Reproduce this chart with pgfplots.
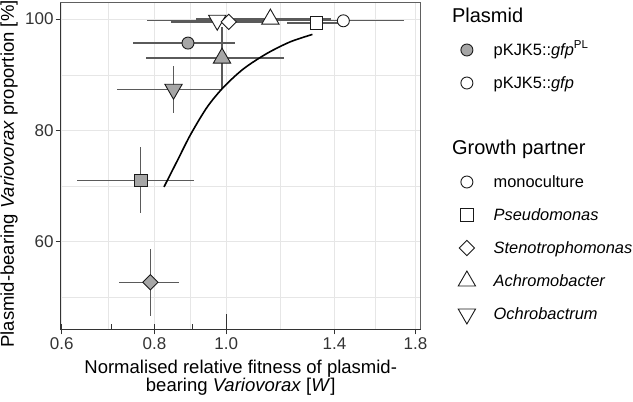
\documentclass[border=0pt]{standalone}
\usepackage{pgfplots}
\pgfplotsset{compat=1.18}
\usepackage{pgfplotstable}
\usepackage{fontspec}
\setmainfont{Liberation Sans}
\definecolor{ptgray}{HTML}{A6A6A6}
\definecolor{errgray}{HTML}{5A5A5A}
\definecolor{gridgray}{HTML}{E6E6E6}
\definecolor{axgray}{HTML}{333333}
\definecolor{boxgray}{HTML}{606060}
\definecolor{mkedge}{HTML}{1A1A1A}

% pKJK5::gfp^PL (grey filled)
\pgfplotstableread{
x y ex ey
0.888 95.7 0.140 0.6
}\plMono
\pgfplotstableread{
x y ex ey
0.767 71.05 0.137 5.95
}\plPseu
\pgfplotstableread{
x y ex ey
0.790 52.75 0.074 6.05
}\plSten
\pgfplotstableread{
x y ex ey
0.987 93.0 0.208 5.6
}\plAchr
\pgfplotstableread{
x y ex ey
0.849 87.4 0.137 4.2
}\plOchr
% pKJK5::gfp (open)
\pgfplotstableread{
x y ex ey
1.439 99.7 0.298 0.3
}\gfMono
\pgfplotstableread{
x y ex ey
1.323 99.3 0.115 0.4
}\gfPseu
\pgfplotstableread{
x y ex ey
1.008 99.5 0.165 0.4
}\gfSten
\pgfplotstableread{
x y ex ey
1.147 100.0 0.238 0.3
}\gfAchr
\pgfplotstableread{
x y ex ey
0.9725 99.8 0.190 0.3
}\gfOchr

\pgfplotsset{
 eb/.style={forget plot, only marks, mark=none,
   error bars/.cd, x dir=both, x explicit, y dir=both, y explicit,
   error mark=none, error bar style={draw=errgray, line width=1.3pt}},
 mk/.style={forget plot, only marks, mark options={draw=mkedge, line width=0.9pt, fill=#1}},
 mcirc/.style={mark=*, mark size=6pt},
 msq/.style={mark=square*, mark size=6.2pt},
 mdia/.style={mark=square*, mark size=5.4pt, every mark/.append style={rotate=45}},
 mtri/.style={mark=triangle*, mark size=10pt},
 mtrid/.style={mark=triangle*, mark size=10pt, every mark/.append style={rotate=180}},
}

\begin{document}
\begin{tikzpicture}
\begin{axis}[
 name=ax,
 scale only axis, width=360pt, height=326.6pt,
 xmode=log, xmin=0.598, xmax=1.83, ymin=44.3, ymax=102.95,
 xtick={0.6,0.8,1.0,1.4,1.8}, xticklabels={0.6,0.8,1.0,1.4,1.8},
 minor xtick={0.6928,0.8944,1.1832,1.5875},
 ytick={60,80,100}, minor ytick={50,70,90},
 grid=both,
 major grid style={draw=gridgray, line width=1.1pt},
 minor grid style={draw=gridgray, line width=0.6pt},
 tick pos=left, tick align=outside,
 major tick length=5pt, minor tick length=0pt,
 tick style={draw=axgray, line width=1.1pt},
 axis line style={draw=boxgray, line width=0.9pt},
 /pgf/number format/assume math mode=true,
 ticklabel style={font=\fontsize{17}{20}\selectfont, text=axgray},
 yticklabel style={inner xsep=2pt},
 xlabel={Normalised relative fitness of plasmid-\\bearing \textit{Variovorax} [\textit{W}]},
 xlabel style={align=center, font=\fontsize{18.5}{16.8}\selectfont, at={(axis description cs:0.5,-0.0934)}, anchor=north, inner sep=0pt},
 ylabel={Plasmid-bearing \textit{Variovorax} proportion [\%]},
 ylabel style={font=\fontsize{18.5}{20}\selectfont, at={(axis description cs:-0.143,0.4755)}, anchor=center, inner sep=0pt},
 clip=false,
 legend cell align=left,
 legend image code/.code={\path (0pt,0pt) (41.6pt,0pt); \draw[#1] plot coordinates {(15pt,0pt)};},
 legend style={at={(axis description cs:1.0861,1.0067)}, anchor=north west, draw=none, fill=none,
   inner sep=0pt, outer sep=0pt, row sep=0pt, font=\fontsize{16.4}{19}\selectfont,
   nodes={inner sep=0pt, text height=21.5pt, text depth=11.5pt}},
]
% error bars
\addplot[eb] table[x=x,y=y,x error=ex,y error=ey]{\plMono};
\addplot[eb] table[x=x,y=y,x error=ex,y error=ey]{\plPseu};
\addplot[eb] table[x=x,y=y,x error=ex,y error=ey]{\plSten};
\addplot[eb] table[x=x,y=y,x error=ex,y error=ey]{\plAchr};
\addplot[eb] table[x=x,y=y,x error=ex,y error=ey]{\plOchr};
\addplot[eb] table[x=x,y=y,x error=ex,y error=ey]{\gfMono};
\addplot[eb] table[x=x,y=y,x error=ex,y error=ey]{\gfPseu};
\addplot[eb] table[x=x,y=y,x error=ex,y error=ey]{\gfSten};
\addplot[eb] table[x=x,y=y,x error=ex,y error=ey]{\gfAchr};
\addplot[eb] table[x=x,y=y,x error=ex,y error=ey]{\gfOchr};
% fitted curve
\addplot[forget plot, black, line width=1.6pt, smooth, mark=none] coordinates {
 (0.8243,69.87) (0.8593,74.61) (0.8954,79.30) (0.9429,84.24) (0.9926,87.83)
 (1.056,91.11) (1.135,93.84) (1.220,95.92) (1.307,97.25)};
% markers
\addplot[mk=ptgray, mcirc] table[x=x,y=y]{\plMono};
\addplot[mk=ptgray, msq] table[x=x,y=y]{\plPseu};
\addplot[mk=ptgray, mdia] table[x=x,y=y]{\plSten};
\addplot[mk=ptgray, mtri] table[x=x,y=y]{\plAchr};
\addplot[mk=ptgray, mtrid] table[x=x,y=y]{\plOchr};
\addplot[mk=white, mtri] table[x=x,y=y]{\gfAchr};
\addplot[mk=white, mtrid] table[x=x,y=y]{\gfOchr};
\addplot[mk=white, mdia] table[x=x,y=y]{\gfSten};
\addplot[mk=white, msq] table[x=x,y=y]{\gfPseu};
\addplot[mk=white, mcirc] table[x=x,y=y]{\gfMono};
% log tick annotation on the bottom axis
\draw[axgray, line width=1.1pt] (axis cs:0.6,44.3) -- ++(0pt,5pt);
\draw[axgray, line width=1.1pt] (axis cs:0.7,44.3) -- ++(0pt,5pt);
\draw[axgray, line width=1.1pt] (axis cs:0.8,44.3) -- ++(0pt,5pt);
\draw[axgray, line width=1.1pt] (axis cs:0.9,44.3) -- ++(0pt,5pt);
\draw[axgray, line width=1.1pt] (axis cs:1.0,44.3) -- ++(0pt,15pt);
\draw[axgray, line width=1.4pt] (rel axis cs:0,1) -- (rel axis cs:0,0) -- (rel axis cs:1,0);
% legend
\addlegendimage{empty legend}\addlegendentry{\hspace*{-41.6pt}\fontsize{20}{22}\selectfont Plasmid}
\addlegendimage{mark=*, mark size=6pt, mark options={fill=ptgray, draw=mkedge, line width=0.9pt}}\addlegendentry{pKJK5::\textit{gfp}\textsuperscript{PL}}
\addlegendimage{mark=*, mark size=6pt, mark options={fill=white, draw=mkedge, line width=0.9pt}}\addlegendentry{pKJK5::\textit{gfp}}
\addlegendimage{empty legend}\addlegendentry{}
\addlegendimage{empty legend}\addlegendentry{\hspace*{-41.6pt}\fontsize{20}{22}\selectfont Growth partner}
\addlegendimage{mark=*, mark size=6pt, mark options={fill=white, draw=mkedge, line width=0.9pt}}\addlegendentry{monoculture}
\addlegendimage{mark=square*, mark size=6.2pt, mark options={fill=white, draw=mkedge, line width=0.9pt}}\addlegendentry{\textit{Pseudomonas}}
\addlegendimage{mark=square*, mark size=5.4pt, mark options={fill=white, draw=mkedge, line width=0.9pt, rotate=45}}\addlegendentry{\textit{Stenotrophomonas}}
\addlegendimage{mark=triangle*, mark size=10pt, mark options={fill=white, draw=mkedge, line width=0.9pt}}\addlegendentry{\textit{Achromobacter}}
\addlegendimage{mark=triangle*, mark size=10pt, mark options={fill=white, draw=mkedge, line width=0.9pt, rotate=180}}\addlegendentry{\textit{Ochrobactrum}}
\end{axis}
\pgfresetboundingbox
\path ([xshift=-60.7pt,yshift=-72.7pt]ax.south west) rectangle ([xshift=572.3pt,yshift=329.3pt]ax.south west);
\end{tikzpicture}
\end{document}
